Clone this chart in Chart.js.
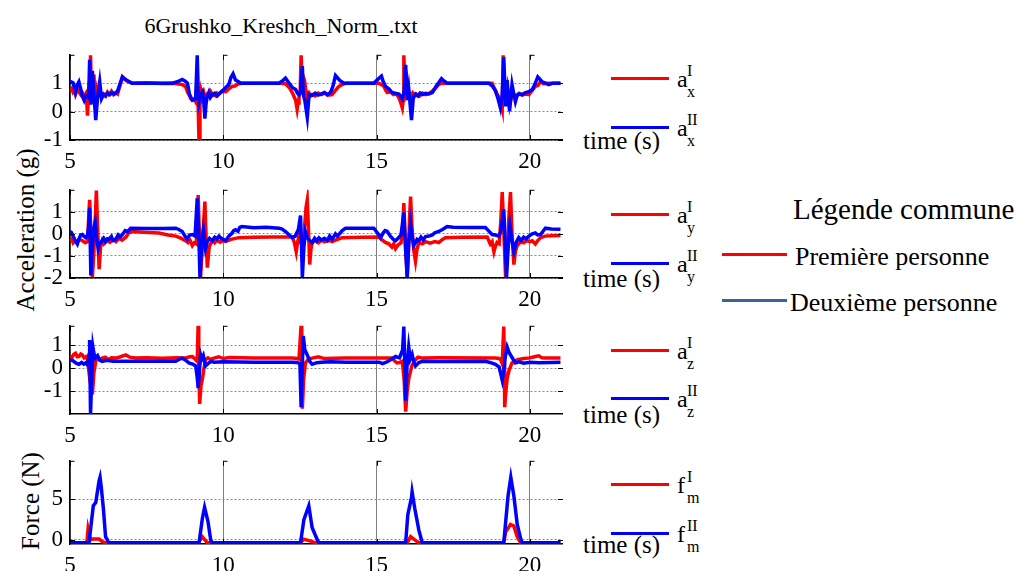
<!DOCTYPE html>
<html>
<head>
<meta charset="utf-8">
<script src="https://cdn.jsdelivr.net/npm/chart.js@4.4.1/dist/chart.umd.min.js"></script>
<style>
  body { margin: 0; background: #fff; }
  #fig { position: relative; width: 1020px; height: 571px; overflow: hidden;
         font-family: 'Liberation Serif', 'DejaVu Serif', 'Noto Serif', serif; color: #000; }
  #fig canvas { position: absolute; left: 0; }
  .t { position: absolute; white-space: nowrap; line-height: 1; }
  .b { font-size: 24px; left: 677px; }
  .s { font-size: 16px; left: 687px; }
  .ts { font-size: 25px; left: 583px; }
  .seg { position: absolute; height: 3px; left: 611px; width: 58px; }
  .r { background: #ff0000; }
  .u { background: #0000ff; }
  .rot { font-size: 25px; transform: translate(-50%, -50%) rotate(-90deg); }
</style>
</head>
<body>
<div id="fig">
  <!-- title and axis labels -->
  <div class="t" style="left:281px; top:14.6px; font-size:22px; transform:translateX(-50%)">6Grushko_Kreshch_Norm_.txt</div>
  <div class="t rot" style="left:24.5px; top:230px">Acceleration (g)</div>
  <div class="t rot" style="left:29.5px; top:501px">Force (N)</div>

  <div class="t ts" style="top:128.1px">time (s)</div>
  <div class="t ts" style="top:266.1px">time (s)</div>
  <div class="t ts" style="top:402.1px">time (s)</div>
  <div class="t ts" style="top:532.1px">time (s)</div>

  <!-- per-plot legends -->
  <div class="seg r" style="top:76.5px"></div>
  <div class="t b" style="top:66.9px">a</div><div class="t s" style="top:62.6px">I</div><div class="t s" style="top:83.6px">x</div>
  <div class="seg u" style="top:125.5px"></div>
  <div class="t b" style="top:115.9px">a</div><div class="t s" style="top:111.6px">II</div><div class="t s" style="top:132.6px">x</div>

  <div class="seg r" style="top:212.5px"></div>
  <div class="t b" style="top:202.9px">a</div><div class="t s" style="top:198.6px">I</div><div class="t s" style="top:219.6px">y</div>
  <div class="seg u" style="top:261.5px"></div>
  <div class="t b" style="top:251.9px">a</div><div class="t s" style="top:247.6px">II</div><div class="t s" style="top:268.6px">y</div>

  <div class="seg r" style="top:348.5px"></div>
  <div class="t b" style="top:338.9px">a</div><div class="t s" style="top:334.6px">I</div><div class="t s" style="top:355.6px">z</div>
  <div class="seg u" style="top:396.5px"></div>
  <div class="t b" style="top:386.9px">a</div><div class="t s" style="top:382.6px">II</div><div class="t s" style="top:403.6px">z</div>

  <div class="seg r" style="top:482.5px"></div>
  <div class="t b" style="top:472.9px">f</div><div class="t s" style="top:468.6px">I</div><div class="t s" style="top:489.6px">m</div>
  <div class="seg u" style="top:531.5px"></div>
  <div class="t b" style="top:521.9px">f</div><div class="t s" style="top:517.6px">II</div><div class="t s" style="top:538.6px">m</div>

  <!-- common legend -->
  <div class="t" style="left:793px; top:194.7px; font-size:29px">Légende commune</div>
  <div class="seg r" style="left:722px; width:65px; top:252.5px"></div>
  <div class="t" style="left:795px; top:244.2px; font-size:26px">Première personne</div>
  <div class="seg" style="left:722px; width:65px; top:298.5px; background:#3a639c"></div>
  <div class="t" style="left:790px; top:290.2px; font-size:26px">Deuxième personne</div>

  <canvas id="pAx" width="580" height="141" style="top:34px"></canvas>
  <canvas id="pAy" width="580" height="144" style="top:169px"></canvas>
  <canvas id="pAz" width="580" height="144" style="top:305px"></canvas>
  <canvas id="pF" width="580" height="139" style="top:440px"></canvas>
</div>
<script>
// ---- data: [time (s), value] ----
const timeTicks = [5, 10, 15, 20];
const axTicks = [-1, 0, 1];
const ayTicks = [-2, -1, 0, 1];
const azTicks = [-1, 0, 1];
const fTicks = [0, 5];

// a_x (g), first person (I) / second person (II)
const axI = [[5.00,0.73],[5.05,0.80],[5.10,0.68],[5.15,0.75],[5.18,0.62],[5.24,0.78],[5.29,0.70],[5.35,0.60],[5.40,0.66],[5.46,0.52],[5.51,0.62],[5.55,0.30],[5.57,-0.14],[5.60,0.50],[5.63,0.30],[5.67,1.98],[5.70,0.60],[5.73,0.90],[5.78,1.30],[5.81,0.60],[5.84,0.40],[5.88,0.75],[5.92,0.55],[5.97,0.70],[6.03,0.50],[6.10,0.62],[6.16,0.55],[6.22,0.68],[6.27,0.60],[6.35,0.72],[6.42,0.60],[6.49,0.66],[6.55,0.62],[6.60,0.80],[6.71,1.22],[6.82,1.10],[6.92,1.05],[7.03,1.00],[7.50,1.02],[8.00,0.99],[8.34,1.00],[8.55,0.97],[8.66,0.95],[8.77,0.89],[8.83,0.70],[8.88,0.60],[8.94,0.45],[8.99,0.40],[9.05,0.45],[9.10,0.35],[9.15,1.20],[9.18,0.20],[9.21,-1.07],[9.24,0.20],[9.28,0.70],[9.32,0.50],[9.37,0.65],[9.42,0.45],[9.48,0.60],[9.53,0.55],[9.59,0.70],[9.65,0.58],[9.75,0.55],[9.80,0.65],[9.86,0.62],[9.95,0.72],[10.08,0.70],[10.18,0.80],[10.29,0.89],[10.38,0.90],[10.45,0.96],[10.60,1.00],[11.82,1.00],[12.03,0.98],[12.15,0.85],[12.25,0.67],[12.30,0.55],[12.36,0.40],[12.41,0.08],[12.44,0.30],[12.47,0.50],[12.51,0.75],[12.54,1.98],[12.58,0.80],[12.62,1.20],[12.65,1.10],[12.70,0.70],[12.74,0.50],[12.80,0.65],[12.85,0.55],[12.90,0.60],[13.00,0.55],[13.10,0.65],[13.20,0.60],[13.30,0.66],[13.40,0.58],[13.55,0.60],[13.66,0.75],[13.77,0.89],[13.88,0.95],[13.99,1.00],[15.08,1.00],[15.16,0.95],[15.24,0.89],[15.30,0.75],[15.35,0.67],[15.45,0.70],[15.55,0.60],[15.62,0.62],[15.70,0.55],[15.78,0.35],[15.84,0.13],[15.87,0.40],[15.89,1.98],[15.93,0.80],[15.95,0.60],[15.98,1.00],[16.00,1.10],[16.05,0.70],[16.11,0.50],[16.18,0.65],[16.25,0.55],[16.30,0.62],[16.40,0.55],[16.50,0.65],[16.60,0.60],[16.71,0.64],[16.82,0.72],[16.92,0.82],[17.02,0.95],[17.12,1.00],[18.77,1.00],[18.85,0.80],[18.93,0.62],[18.99,0.51],[19.05,0.40],[19.10,0.13],[19.13,1.98],[19.16,0.80],[19.18,0.40],[19.22,0.70],[19.26,0.90],[19.30,0.50],[19.34,0.20],[19.40,0.50],[19.48,0.62],[19.55,0.55],[19.65,0.64],[19.75,0.58],[19.86,0.62],[19.97,0.60],[20.08,0.75],[20.18,0.89],[20.26,0.92],[20.35,1.05],[20.45,0.98],[20.62,1.00],[21.00,1.00]];
const axII = [[5.00,1.00],[5.04,1.05],[5.10,1.02],[5.18,0.67],[5.24,0.95],[5.29,1.05],[5.35,0.80],[5.40,0.55],[5.46,0.40],[5.51,0.55],[5.57,0.57],[5.61,0.50],[5.64,1.82],[5.68,0.24],[5.73,1.43],[5.78,0.60],[5.84,-0.30],[5.90,0.50],[5.97,1.05],[6.03,0.46],[6.09,0.60],[6.16,0.55],[6.22,0.65],[6.30,0.60],[6.38,0.67],[6.45,0.62],[6.55,0.72],[6.71,1.22],[6.85,1.10],[7.03,1.00],[8.34,1.00],[8.50,1.05],[8.66,1.13],[8.75,1.08],[8.83,1.00],[8.90,0.60],[8.99,0.40],[9.05,0.42],[9.10,0.45],[9.15,1.98],[9.18,0.80],[9.21,0.35],[9.26,0.60],[9.32,0.70],[9.36,0.40],[9.40,-0.25],[9.44,0.30],[9.48,0.55],[9.53,0.68],[9.58,0.50],[9.64,0.60],[9.72,0.65],[9.80,0.55],[9.86,0.62],[9.95,0.70],[10.08,0.85],[10.18,0.95],[10.25,1.20],[10.32,1.33],[10.40,1.11],[10.50,1.05],[10.57,1.00],[11.82,1.00],[11.95,1.10],[12.03,1.18],[12.15,1.00],[12.25,0.85],[12.36,0.78],[12.42,0.65],[12.47,0.60],[12.52,0.70],[12.58,1.60],[12.61,0.60],[12.66,0.40],[12.70,0.10],[12.74,-0.20],[12.80,0.60],[12.90,0.57],[13.00,0.65],[13.10,0.58],[13.20,0.62],[13.30,0.67],[13.40,0.60],[13.50,0.68],[13.58,0.90],[13.66,1.27],[13.80,1.10],[13.93,1.00],[14.91,1.00],[15.05,1.15],[15.16,1.25],[15.22,1.05],[15.29,0.89],[15.40,0.80],[15.51,0.67],[15.60,0.65],[15.73,0.62],[15.84,0.45],[15.90,0.70],[15.95,1.65],[16.00,0.40],[16.05,0.80],[16.10,0.20],[16.14,-0.30],[16.20,0.50],[16.27,0.62],[16.35,0.55],[16.42,0.65],[16.50,0.60],[16.60,0.64],[16.70,0.62],[16.82,0.67],[16.95,0.90],[17.05,1.05],[17.12,1.16],[17.20,1.08],[17.30,1.00],[18.66,1.00],[18.78,0.90],[18.88,0.73],[18.95,0.50],[19.04,0.13],[19.10,0.60],[19.15,1.92],[19.21,0.18],[19.26,1.11],[19.30,0.50],[19.34,0.02],[19.38,0.50],[19.42,0.95],[19.48,0.60],[19.53,0.35],[19.58,0.55],[19.64,0.62],[19.75,0.60],[19.86,0.67],[19.97,0.70],[20.08,0.78],[20.16,0.95],[20.26,1.22],[20.40,1.05],[20.51,1.00],[20.62,0.95],[20.75,1.00],[21.00,1.00]];

// a_y (g)
const ayI = [[5.00,-0.31],[5.05,-0.25],[5.10,-0.40],[5.15,-0.30],[5.20,-0.38],[5.30,-0.25],[5.40,-0.30],[5.50,-0.40],[5.57,-0.35],[5.64,1.54],[5.68,0.20],[5.73,-1.96],[5.78,-0.80],[5.82,0.50],[5.86,1.97],[5.90,0.30],[5.95,-1.60],[6.00,-0.53],[6.05,-0.30],[6.10,-0.45],[6.20,-0.30],[6.30,-0.38],[6.40,-0.25],[6.50,-0.35],[6.60,-0.20],[6.70,-0.28],[6.82,-0.15],[6.92,0.05],[7.03,0.11],[7.40,0.08],[7.90,0.04],[8.20,-0.05],[8.45,-0.10],[8.60,-0.18],[8.77,-0.31],[8.85,-0.40],[8.92,-0.30],[8.99,-0.53],[9.05,-0.40],[9.12,-0.45],[9.18,1.76],[9.22,0.00],[9.26,-1.96],[9.32,-0.50],[9.36,0.50],[9.40,1.47],[9.44,-0.20],[9.48,-1.53],[9.54,-0.60],[9.59,-0.45],[9.65,-0.30],[9.72,-0.40],[9.80,-0.28],[9.90,-0.38],[10.00,-0.30],[10.08,-0.34],[10.25,-0.25],[10.51,-0.17],[11.00,-0.15],[11.60,-0.14],[12.25,-0.14],[12.32,-0.40],[12.38,-0.81],[12.42,-0.40],[12.47,-0.10],[12.52,-0.35],[12.58,-0.30],[12.64,0.10],[12.70,1.20],[12.74,1.54],[12.78,0.20],[12.82,-1.39],[12.86,-0.70],[12.90,-0.39],[13.00,-0.30],[13.10,-0.40],[13.20,-0.28],[13.30,-0.36],[13.45,-0.28],[13.55,-0.35],[13.66,-0.28],[13.77,-0.22],[13.88,-0.17],[14.50,-0.15],[15.08,-0.14],[15.20,-0.30],[15.29,-0.39],[15.40,-0.45],[15.50,-0.60],[15.56,-0.45],[15.62,-0.67],[15.70,-0.50],[15.80,-0.40],[15.86,0.50],[15.89,1.40],[15.93,0.00],[16.00,-1.96],[16.05,-0.50],[16.08,0.80],[16.11,1.69],[16.16,0.20],[16.22,-0.80],[16.27,-1.24],[16.32,-0.70],[16.38,-0.39],[16.50,-0.45],[16.60,-0.35],[16.75,-0.42],[16.90,-0.35],[17.03,-0.39],[17.15,-0.25],[17.25,-0.17],[17.80,-0.15],[18.61,-0.14],[18.66,-0.30],[18.71,-0.46],[18.77,-0.35],[18.83,-0.81],[18.88,-0.55],[18.93,-0.39],[19.00,-0.45],[19.05,0.50],[19.10,1.90],[19.15,0.20],[19.21,-1.96],[19.27,-0.60],[19.32,0.80],[19.37,1.90],[19.42,0.00],[19.48,-1.39],[19.53,-0.80],[19.59,-0.53],[19.70,-0.35],[19.80,-0.40],[19.90,-0.30],[20.00,-0.35],[20.08,-0.31],[20.18,-0.46],[20.26,-0.30],[20.35,-0.17],[20.50,-0.10],[20.70,-0.08],[21.00,-0.07]];
const ayII = [[5.00,0.11],[5.05,0.06],[5.10,-0.10],[5.17,-0.30],[5.24,-0.46],[5.30,-0.20],[5.35,-0.05],[5.40,-0.03],[5.46,-0.12],[5.51,-0.17],[5.57,-0.05],[5.61,0.30],[5.64,1.19],[5.68,-1.89],[5.73,-0.60],[5.78,0.30],[5.82,0.54],[5.87,-0.20],[5.92,-0.67],[5.96,-0.45],[6.00,-0.39],[6.05,-0.30],[6.10,-0.20],[6.16,-0.35],[6.22,-0.22],[6.27,-0.24],[6.35,-0.12],[6.40,-0.30],[6.49,-0.25],[6.57,-0.05],[6.63,-0.15],[6.71,-0.03],[6.80,0.15],[6.88,0.10],[6.98,0.26],[7.50,0.24],[8.00,0.25],[8.45,0.26],[8.55,0.20],[8.66,0.11],[8.75,-0.10],[8.83,-0.24],[8.90,-0.05],[8.99,-0.03],[9.08,-0.10],[9.15,1.61],[9.20,0.00],[9.24,-1.96],[9.30,-0.40],[9.35,0.19],[9.38,-0.20],[9.42,-0.67],[9.48,-0.35],[9.55,-0.20],[9.64,-0.31],[9.72,-0.15],[9.79,-0.22],[9.86,-0.10],[9.93,-0.20],[10.00,-0.25],[10.08,-0.31],[10.18,-0.10],[10.29,0.04],[10.34,0.15],[10.40,0.19],[10.48,0.12],[10.54,0.30],[10.60,0.33],[11.00,0.28],[11.40,0.30],[11.82,0.26],[11.92,0.22],[12.03,0.11],[12.15,-0.05],[12.25,-0.17],[12.35,-0.10],[12.45,0.20],[12.52,0.83],[12.55,-0.50],[12.58,-1.96],[12.63,-0.60],[12.68,0.10],[12.74,-0.17],[12.82,-0.30],[12.90,-0.39],[12.98,-0.20],[13.05,-0.32],[13.12,-0.18],[13.20,-0.28],[13.30,-0.20],[13.40,-0.30],[13.47,-0.10],[13.55,-0.24],[13.66,0.00],[13.72,-0.10],[13.77,-0.03],[13.88,0.15],[13.99,0.26],[14.91,0.26],[15.00,0.10],[15.08,-0.05],[15.13,-0.17],[15.22,0.05],[15.28,0.15],[15.35,0.11],[15.45,-0.10],[15.55,-0.25],[15.62,-0.31],[15.70,-0.20],[15.80,-0.05],[15.89,0.97],[15.95,-0.80],[16.00,-1.96],[16.05,-0.40],[16.11,0.47],[16.16,-0.10],[16.21,-0.53],[16.27,-0.40],[16.32,-0.25],[16.38,-0.31],[16.45,-0.15],[16.52,-0.28],[16.60,-0.12],[16.71,-0.10],[16.82,-0.05],[16.90,0.05],[17.03,0.11],[17.15,0.20],[17.30,0.33],[17.50,0.30],[18.00,0.29],[18.55,0.29],[18.65,0.15],[18.77,-0.03],[18.88,-0.05],[18.99,-0.10],[19.05,0.10],[19.15,1.11],[19.20,-0.50],[19.24,-1.96],[19.30,-0.50],[19.35,0.40],[19.42,-0.30],[19.48,-0.81],[19.55,-0.40],[19.64,-0.17],[19.72,-0.30],[19.80,-0.15],[19.88,-0.22],[19.97,-0.10],[20.08,0.00],[20.18,0.04],[20.26,-0.05],[20.35,-0.03],[20.43,0.12],[20.51,0.26],[20.70,0.22],[21.00,0.21]];

// a_z (g)
const azI = [[5.00,0.51],[5.06,0.45],[5.12,0.60],[5.18,0.65],[5.24,0.50],[5.29,0.51],[5.35,0.62],[5.40,0.58],[5.46,0.45],[5.52,0.50],[5.57,0.37],[5.62,-0.18],[5.67,0.20],[5.73,-1.14],[5.78,-0.20],[5.84,0.30],[5.90,0.45],[5.96,0.38],[6.05,0.44],[6.15,0.48],[6.25,0.38],[6.35,0.45],[6.50,0.44],[6.65,0.50],[6.82,0.58],[6.95,0.48],[7.14,0.44],[7.50,0.45],[8.00,0.43],[8.50,0.45],[8.77,0.44],[8.90,0.50],[8.99,0.51],[9.08,0.40],[9.15,0.30],[9.18,1.89],[9.20,0.20],[9.23,-1.56],[9.27,-0.80],[9.32,-0.46],[9.37,0.00],[9.42,0.37],[9.50,0.45],[9.58,0.38],[9.70,0.44],[9.85,0.50],[10.00,0.42],[10.20,0.47],[11.00,0.44],[12.25,0.44],[12.40,0.42],[12.47,0.40],[12.54,1.89],[12.56,0.00],[12.58,-1.77],[12.62,-0.50],[12.68,0.23],[12.78,0.40],[12.90,0.44],[13.10,0.50],[13.30,0.42],[14.00,0.44],[15.51,0.44],[15.60,0.30],[15.67,0.23],[15.75,0.25],[15.84,0.30],[15.90,-0.50],[15.95,-1.90],[16.00,-1.00],[16.05,-0.46],[16.15,0.10],[16.27,0.37],[16.35,0.48],[16.50,0.44],[17.00,0.45],[18.88,0.44],[19.00,0.42],[19.04,0.40],[19.10,0.20],[19.15,1.82],[19.17,0.20],[19.18,-1.70],[19.22,-1.00],[19.26,-0.46],[19.32,-0.10],[19.42,0.23],[19.50,0.30],[19.60,0.37],[19.80,0.42],[20.00,0.45],[20.15,0.50],[20.29,0.54],[20.40,0.45],[20.50,0.44],[21.00,0.44]];
const azII = [[5.00,0.37],[5.10,0.32],[5.20,0.22],[5.29,0.17],[5.38,0.25],[5.45,0.18],[5.51,0.23],[5.57,0.15],[5.62,0.60],[5.64,1.23],[5.67,-2.00],[5.71,-0.40],[5.75,0.90],[5.78,0.65],[5.83,0.45],[5.90,0.55],[5.97,0.35],[6.05,0.30],[6.20,0.34],[6.40,0.30],[7.00,0.30],[8.45,0.30],[8.55,0.38],[8.66,0.44],[8.77,0.35],[8.88,0.23],[9.00,0.18],[9.10,0.10],[9.15,-0.40],[9.18,-0.87],[9.22,-0.20],[9.26,0.58],[9.30,0.40],[9.35,0.55],[9.42,0.10],[9.50,0.20],[9.60,0.30],[9.70,0.26],[10.00,0.28],[11.00,0.26],[12.25,0.26],[12.40,0.25],[12.50,0.20],[12.54,-1.70],[12.58,0.20],[12.61,1.41],[12.66,0.80],[12.74,0.58],[12.82,0.30],[12.90,0.17],[13.05,0.24],[13.20,0.26],[13.50,0.28],[14.00,0.26],[15.08,0.26],[15.20,0.20],[15.35,0.28],[15.50,0.40],[15.62,0.51],[15.75,0.45],[15.85,0.80],[15.89,1.82],[15.92,0.20],[15.95,-1.42],[15.99,0.00],[16.05,0.92],[16.10,0.40],[16.16,0.60],[16.22,0.25],[16.27,0.10],[16.38,0.25],[16.50,0.30],[17.00,0.29],[18.55,0.30],[18.70,0.25],[18.88,0.17],[19.00,0.05],[19.10,-0.52],[19.15,-0.10],[19.20,0.50],[19.26,0.92],[19.32,0.70],[19.37,0.58],[19.45,0.40],[19.53,0.23],[19.65,0.28],[19.80,0.22],[20.00,0.26],[20.30,0.24],[21.00,0.26]];

// f_m (N)
const fmI = [[5.00,-0.35],[5.55,-0.35],[5.59,1.35],[5.67,0.00],[5.73,0.10],[5.95,0.10],[6.05,-0.20],[6.16,-0.35],[9.18,-0.35],[9.32,0.38],[9.48,-0.35],[12.52,-0.35],[12.63,0.10],[12.90,-0.20],[13.01,-0.35],[16.00,-0.35],[16.11,0.40],[16.32,-0.20],[16.40,-0.35],[19.15,-0.35],[19.21,0.96],[19.37,1.90],[19.48,1.70],[19.59,0.40],[19.70,-0.35],[21.00,-0.35]];
const fmII = [[5.00,-0.35],[5.62,-0.35],[5.76,4.20],[5.84,4.60],[5.95,7.30],[5.98,7.70],[6.02,6.50],[6.09,3.80],[6.16,0.40],[6.27,-0.35],[9.21,-0.35],[9.32,2.70],[9.39,4.00],[9.50,2.30],[9.59,0.00],[9.64,-0.35],[12.52,-0.35],[12.63,2.50],[12.79,4.20],[12.90,1.50],[13.07,0.00],[13.12,-0.35],[15.95,-0.35],[16.02,3.10],[16.14,5.20],[16.16,5.90],[16.25,3.80],[16.38,1.20],[16.49,-0.35],[19.15,-0.35],[19.29,5.40],[19.38,7.70],[19.48,5.40],[19.59,1.90],[19.70,0.20],[19.75,-0.35],[21.00,-0.35]];

const RED = '#ff0000';
const BLUE = '#0000ff';
const SERIF = "'Liberation Serif', 'DejaVu Serif', 'Noto Serif', serif";

// MATLAB-like inner tick marks on all four sides
const innerTicks = {
    id: 'innerTicks',
    afterDraw(chart) {
        const { ctx, chartArea: a, scales: { x, y } } = chart;
        ctx.save();
        ctx.strokeStyle = '#000';
        ctx.lineWidth = 1;
        ctx.beginPath();
        x.ticks.forEach(t => {
            const px = Math.round(x.getPixelForValue(t.value)) + 0.5;
            ctx.moveTo(px, a.top); ctx.lineTo(px, a.top + 5);
            ctx.moveTo(px, a.top + 0.5); ctx.lineTo(px + 4, a.top + 0.5);
            ctx.moveTo(px, a.bottom); ctx.lineTo(px, a.bottom - 5);
        });
        y.ticks.forEach(t => {
            const py = Math.round(y.getPixelForValue(t.value)) + 0.5;
            ctx.moveTo(a.left, py); ctx.lineTo(a.left + 5, py);
            ctx.moveTo(a.right - 4, py); ctx.lineTo(a.right + 1, py);
        });
        ctx.stroke();
        ctx.restore();
    }
};

function toPoints(series) {
    return series.map(([x, y]) => ({ x, y }));
}

function makePlot(canvasId, red, blue, yMin, yMax, yTicks) {
    return new Chart(document.getElementById(canvasId), {
        type: 'line',
        data: {
            datasets: [
                { data: toPoints(red), borderColor: RED, borderWidth: 3.5, pointRadius: 0, order: 2 },
                { data: toPoints(blue), borderColor: BLUE, borderWidth: 3.5, pointRadius: 0, order: 1 }
            ]
        },
        options: {
            responsive: false,
            animation: false,
            devicePixelRatio: 1,
            layout: { padding: { top: 16, right: 18, left: 0, bottom: 0 } },
            plugins: { legend: { display: false }, tooltip: { enabled: false } },
            scales: {
                x: {
                    type: 'linear', min: 5, max: 21.05,
                    afterBuildTicks: (s) => { s.ticks = timeTicks.map(v => ({ value: v })); },
                    afterFit: (s) => { s.height = 35; },
                    ticks: { color: '#000', padding: 8, maxRotation: 0, autoSkip: false, font: { family: SERIF, size: 23 } },
                    grid: { color: '#808080', lineWidth: 1, drawTicks: false },
                    border: { color: '#000', width: 1.5 }
                },
                y: {
                    min: yMin, max: yMax,
                    afterBuildTicks: (s) => { s.ticks = yTicks.map(v => ({ value: v })); },
                    afterFit: (s) => { s.width = 70; },
                    ticks: { color: '#000', padding: 7, autoSkip: false, font: { family: SERIF, size: 23 } },
                    grid: { color: '#8a8a8a', lineWidth: 1, drawTicks: false },
                    border: { color: '#000', width: 1.5, dash: [2, 2] }
                }
            }
        },
        plugins: [innerTicks]
    });
}

const charts = [
    makePlot('pAx', axI, axII, -1, 2, axTicks),
    makePlot('pAy', ayI, ayII, -2, 2, ayTicks),
    makePlot('pAz', azI, azII, -2, 1.85, azTicks),
    makePlot('pF', fmI, fmII, -0.5, 9.73, fTicks)
];

// redraw once the serif face is available
if (document.fonts && document.fonts.load) {
    document.fonts.load('23px "Liberation Serif"').then(() => charts.forEach(c => c.update('none')));
}
</script>
</body>
</html>
